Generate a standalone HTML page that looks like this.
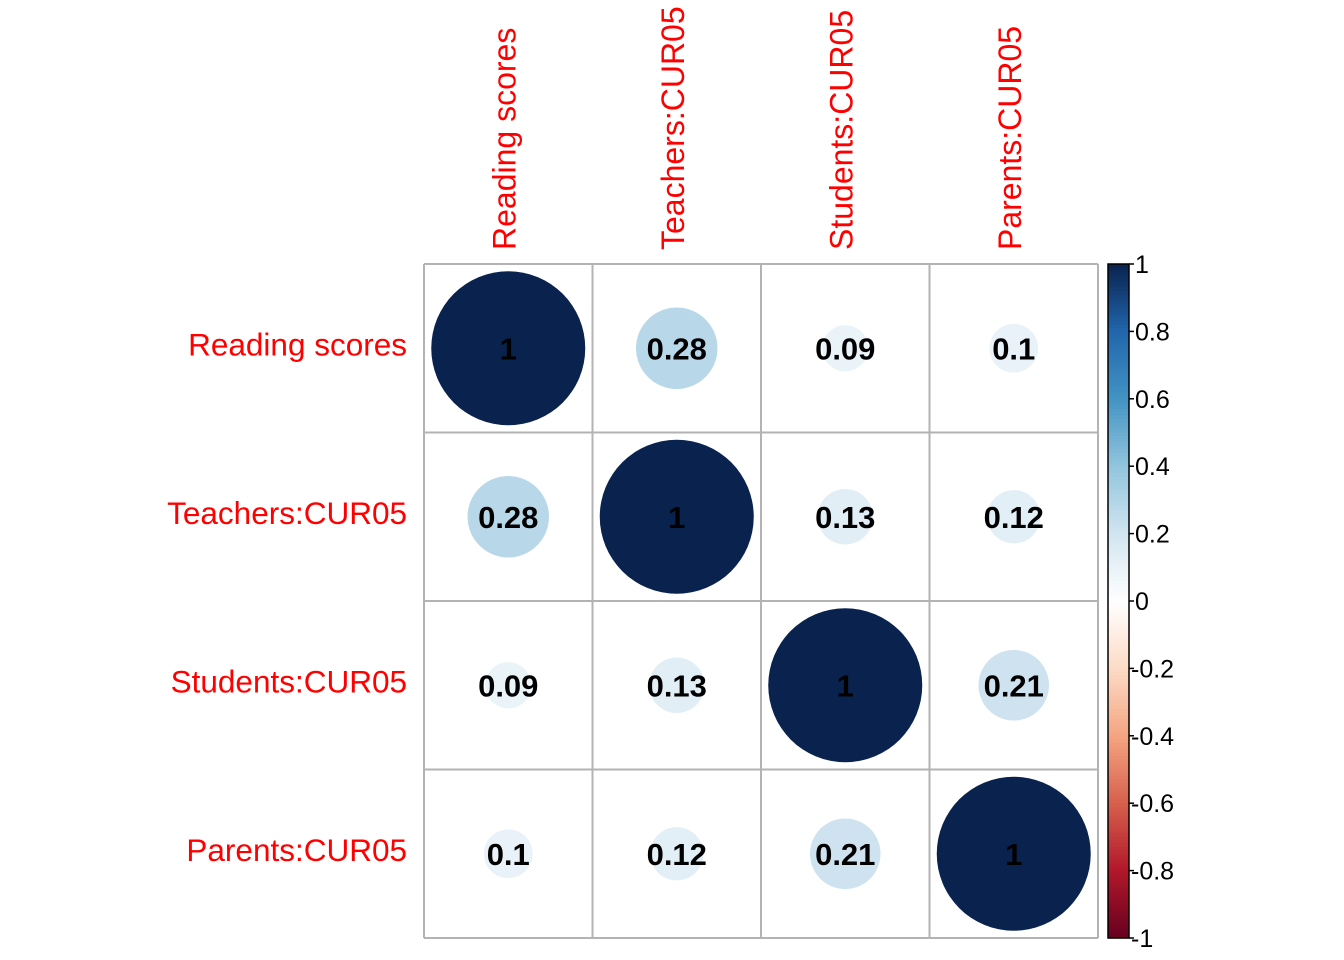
<!DOCTYPE html>
<html><head><meta charset="utf-8"><style>
html,body{margin:0;padding:0;background:#fff;}
svg{display:block;font-family:"Liberation Sans",Arial,sans-serif;}
</style></head><body>
<svg id="chart" width="1344" height="960"></svg>
<script>
const labels = ["Reading scores","Teachers:CUR05","Students:CUR05","Parents:CUR05"];
const matrix = [
  [1,0.28,0.09,0.1],
  [0.28,1,0.13,0.12],
  [0.09,0.13,1,0.21],
  [0.1,0.12,0.21,1]
];
const textVals = [
  ["1","0.28","0.09","0.1"],
  ["0.28","1","0.13","0.12"],
  ["0.09","0.13","1","0.21"],
  ["0.1","0.12","0.21","1"]
];
const legendTicks = [1,0.8,0.6,0.4,0.2,0,-0.2,-0.4,-0.6,-0.8,-1];
const legendTickLabels = ["1","0.8","0.6","0.4","0.2","0","-0.2","-0.4","-0.6","-0.8","-1"];
const palette = ["#67001F","#B2182B","#D6604D","#F4A582","#FDDBC7","#FFFFFF","#D1E5F0","#92C5DE","#4393C3","#2166AC","#0A224E"];

const NS="http://www.w3.org/2000/svg";
const svg=document.getElementById('chart');
function mk(tag,attrs,parent){const e=document.createElementNS(NS,tag);for(const k in attrs)e.setAttribute(k,attrs[k]);(parent||svg).appendChild(e);return e;}
function hex(h){return [1,3,5].map(i=>parseInt(h.substr(i,2),16));}
function colorFor(v){
  const t=(v+1)/2*(palette.length-1);
  const i=Math.min(Math.floor(t),palette.length-2), f=t-i;
  const a=hex(palette[i]), b=hex(palette[i+1]);
  return "rgb("+a.map((c,k)=>Math.round(c+(b[k]-c)*f)).join(",")+")";
}
const x0=424, y0=264, cell=168.5, n=labels.length, maxR=77;
const xs=j=>x0+cell*(j+0.5), ys=i=>y0+cell*(i+0.5);

for(let i=0;i<n;i++)for(let j=0;j<n;j++){
  const v=matrix[i][j];
  const c=mk('circle',{cx:xs(j),cy:ys(i),r:maxR*Math.sqrt(Math.abs(v)),fill:colorFor(v)});
  
  
}
for(let k=0;k<=n;k++){
  mk('line',{x1:x0+cell*k,y1:y0,x2:x0+cell*k,y2:y0+cell*n,stroke:"#b3b3b3","stroke-width":2});
  mk('line',{x1:x0,y1:y0+cell*k,x2:x0+cell*n,y2:y0+cell*k,stroke:"#b3b3b3","stroke-width":2});
}
for(let i=0;i<n;i++)for(let j=0;j<n;j++){
  const t=mk('text',{x:xs(j),y:ys(i)+11,"text-anchor":"middle","font-size":31,"font-weight":"bold",fill:"#000"});
  t.textContent=textVals[i][j];
  
  
}
for(let i=0;i<n;i++){
  const t=mk('text',{x:407,y:ys(i)+7,"text-anchor":"end","font-size":31.5,fill:"#ff0000"});
  t.textContent=labels[i];
  
  
}
for(let j=0;j<n;j++){
  const x=xs(j)+7;
  const t=mk('text',{x:x,y:250,transform:"rotate(-90 "+x+" 250)","font-size":32,fill:"#ff0000"});
  t.textContent=labels[j];
  
  
}
const lx=1108, lw=21, ly0=264, ly1=938;
const ly=v=>ly0+(1-v)/2*(ly1-ly0);
const N=200;
for(let k=0;k<N;k++){
  const v1=1-2*k/N, v2=1-2*(k+1)/N;
  mk('rect',{x:lx,y:ly(v1),width:lw,height:ly(v2)-ly(v1)+0.6,fill:colorFor((v1+v2)/2)});
}
const bar=mk('rect',{x:lx,y:ly0,width:lw,height:ly1-ly0,fill:"none",stroke:"#000","stroke-width":1.5});


legendTicks.forEach((v,k)=>{
  mk('line',{x1:lx+lw,y1:ly(v),x2:lx+lw+5,y2:ly(v),stroke:"#000","stroke-width":1.5});
  const t=mk('text',{x:lx+lw+(v<0?2:6),y:ly(v)+9,"font-size":25,fill:"#000"});
  t.textContent=legendTickLabels[k];
  
  
});
</script>
</body></html>
